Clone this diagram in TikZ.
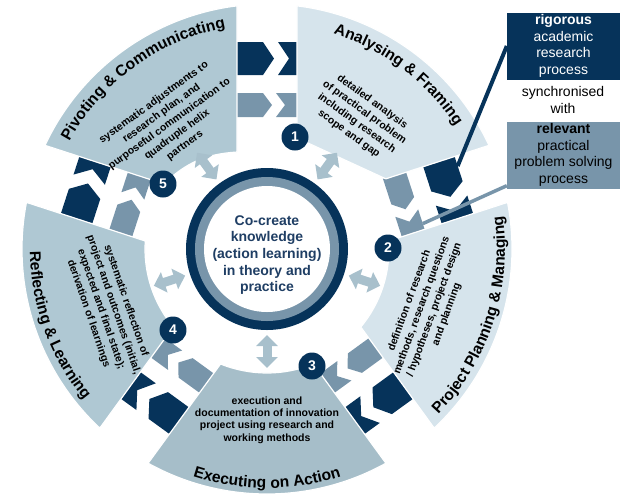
\documentclass[tikz,border=0pt]{standalone}
\usepackage{fontspec}
\setmainfont{Liberation Sans}
\usetikzlibrary{arrows.meta,decorations.text}
\definecolor{navy}{HTML}{06335A}
\definecolor{midblue}{HTML}{7895AA}
\definecolor{segA}{HTML}{D6E4EC}
\definecolor{segB}{HTML}{AFC8D3}
\definecolor{segC}{HTML}{A6BEC9}
\definecolor{dblc}{HTML}{A8C0CC}
\definecolor{ctext}{HTML}{1F3E64}
\newcommand{\ttlfont}{\bfseries\fontsize{15.6}{18}\selectfont}
\newcommand{\gapchev}[2]{%
  \begin{scope}[rotate=#1-90]
    \fill[navy] (-31,174) -- (-4,174) -- (7,190.5) -- (-4,207) -- (-31,207) -- cycle;
    \fill[navy] (11,207) -- (36,207) -- (47,190.5) -- (36,174) -- (11,174) -- (22,190.5) -- cycle;
    \fill[midblue] (-31,132) -- (-4,132) -- (5,144) -- (-4,156) -- (-31,156) -- cycle;
    \fill[midblue] (9,156) -- (34,156) -- (43,144) -- (34,132) -- (9,132) -- (18,144) -- cycle;
    \coordinate (#2d) at (-20,207);
    \coordinate (#2g) at (24,156);
  \end{scope}}
\begin{document}
\begin{tikzpicture}[x=1pt,y=1pt,
  segment/.style={draw=white, line width=1.2pt},
  dblarrow/.style={draw=dblc, line width=9pt, {Triangle[length=11pt,width=21pt]}-{Triangle[length=11pt,width=21pt]}},
  badge/.style={circle, fill=navy, minimum size=27pt, inner sep=0pt, text=white, font=\bfseries\fontsize{14}{14}\selectfont},
  body/.style={align=center, font=\bfseries\fontsize{10.5}{13.2}\selectfont, inner sep=0pt, text=black},
  sidebox/.style={minimum width=113pt, minimum height=67pt, inner sep=0pt, align=center, font=\fontsize{14}{16.7}\selectfont},
  ttl/.style={decorate, decoration={text along path, text align=center, text color=black, text={#1}}}
]
\useasboundingbox (-267,-250) rectangle (353,249);

% chevrons in the gaps
\gapchev{90}{g90}
\gapchev{18}{g18}
\gapchev{-54}{g54}
\gapchev{-126}{g126}
\gapchev{162}{g162}

% segments
\path[segment, fill=segA] (30.56:138) -- (25.03:245) arc[start angle=25.03, end angle=82.97, radius=245] -- (74.88:115) -- cycle;
\path[segment, fill=segA] (3.76:122) -- (10.97:245) arc[start angle=10.97, end angle=-46.97, radius=245] -- (-39.76:122) arc[start angle=-39.76, end angle=3.76, radius=122] -- cycle;
\path[segment, fill=segC] (-68:124) -- (-60.97:245) arc[start angle=-60.97, end angle=-119.03, radius=245] -- (-112:124) arc[start angle=-112, end angle=-68, radius=124] -- cycle;
\path[segment, fill=segB] (219.76:122) -- (226.97:245) arc[start angle=226.97, end angle=169.03, radius=245] -- (176.24:122) arc[start angle=176.24, end angle=219.76, radius=122] -- cycle;
\path[segment, fill=segB] (147.76:122) -- (154.97:245) arc[start angle=154.97, end angle=97.03, radius=245] -- (107.19:101.5) to[bend right=20] cycle;

% central circle
\fill[navy] (0,0) circle[radius=81];
\fill[midblue] (0,0) circle[radius=72];
\fill[white] (0,0) circle[radius=63];
\node[align=center, text=ctext, font=\bfseries\fontsize{14}{16.7}\selectfont] (ctr) at (0,-6)
  {Co-create\\knowledge\\(action learning)\\in theory and\\practice};

% double arrows
\foreach \a/\n in {54/1,126/5,198/4,270/3,342/2} {
  \coordinate (in\n) at (\a:86);
  \coordinate (out\n) at (\a:119);
  \draw[dblarrow] (in\n) -- (out\n);
}

% titles
\path[ttl={|\ttlfont|Analysing {\&} Framing}] (84:225) arc[start angle=84, end angle=22, radius=225];
\path[ttl={|\ttlfont|Pivoting {\&} Communicating}] (157:225) arc[start angle=157, end angle=95, radius=225];
\path[ttl={|\ttlfont|Project Planning {\&} Managing}] (-50:238) arc[start angle=-50, end angle=14, radius=238];
\path[ttl={|\ttlfont|Executing on Action}] (238:239) arc[start angle=238, end angle=302, radius=239];
\path[ttl={|\ttlfont|Reflecting {\&} Learning}] (168:237) arc[start angle=168, end angle=232, radius=237];

% body texts
\node[body, rotate=-36] (t1) at (54.5:161) {detailed analysis\\of practical problem\\including research\\scope and gap};
\node[body, rotate=36] (t5) at (128:158.5) {systematic adjustments to\\research plan, and\\purposeful communication to\\quadruple helix\\partners};
\node[body, rotate=-71] (t4) at (200:170) {systematic reflection of\\project and outcomes (initial,\\expected and final state);\\derivation of learnings};
\node[body, rotate=70] (t2) at (340:171.5) {definition of research\\methods, research questions\\/ hypotheses, project design\\and planning};
\node[body, font=\bfseries\fontsize{10.5}{12.3}\selectfont] (t3) at (0,-171) {execution and\\documentation of innovation\\project using research and\\working methods};

% badges
\node[badge] (b1) at (28,112) {1};
\node[badge] (b2) at (121,1) {2};
\node[badge] (b3) at (45,-117) {3};
\node[badge] (b4) at (-94,-81) {4};
\node[badge] (b5) at (-104,65) {5};

% side boxes
\node[sidebox, fill=navy, text=white] (rig) at (296.5,203) {\textbf{rigorous}\\academic\\research\\process};
\node[align=center, font=\fontsize{14}{16.7}\selectfont] (syn) at (296,149) {synchronised\\with};
\node[sidebox, fill=midblue, text=black] (rel) at (296.5,94) {\textbf{relevant}\\practical\\problem solving\\process};

\draw[navy, line width=4pt] (rig.west) -- (g18d);
\draw[midblue, line width=3.5pt] ([yshift=3pt]rel.south west) -- (g18g);
\end{tikzpicture}
\end{document}
